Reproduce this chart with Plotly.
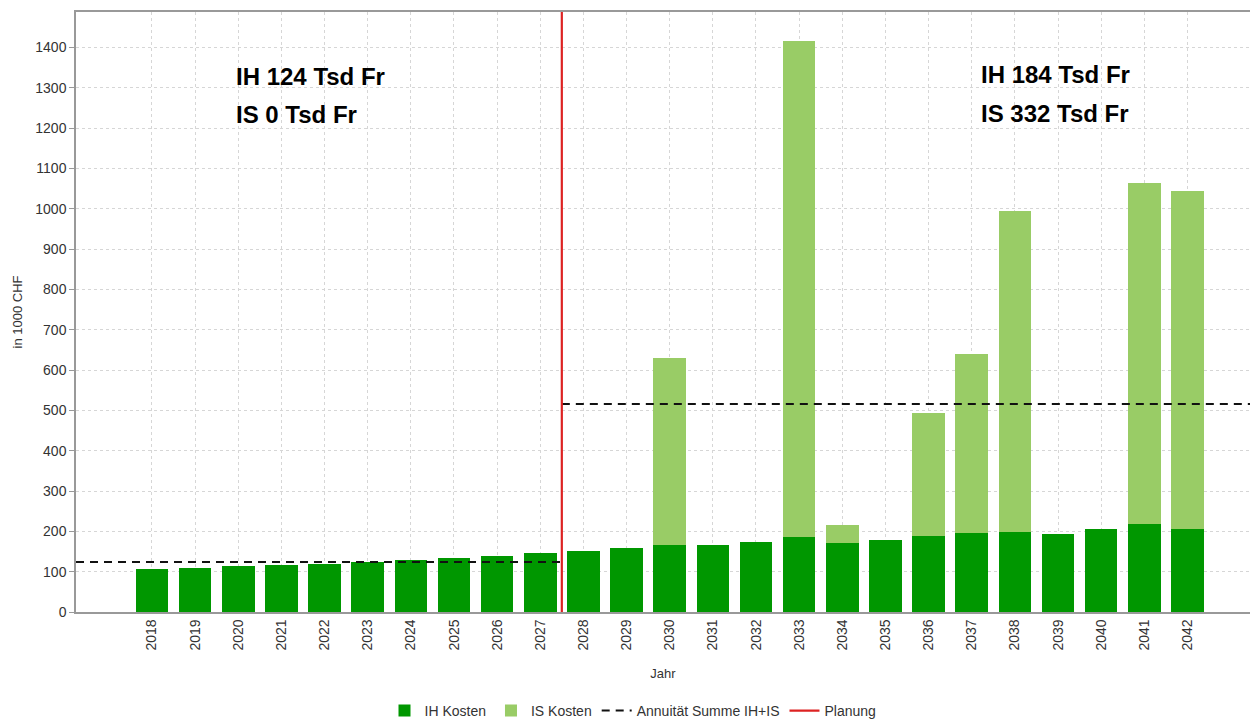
import plotly.graph_objects as go

# Jahre und Kosten (in 1000 CHF)
jahre = list(range(2018, 2043))
ih_kosten = [106, 110, 113, 117, 120, 124, 128, 134, 140, 146,
             152, 159, 165, 165, 174, 186, 171, 178, 189, 196,
             198, 193, 207, 219, 205]
is_kosten = [0, 0, 0, 0, 0, 0, 0, 0, 0, 0,
             0, 0, 466, 0, 0, 1229, 46, 0, 304, 444,
             797, 0, 0, 846, 839]

# Annuität je Periode (vor / nach Planungsbeginn)
annuitaet_vor = 124
annuitaet_nach = 516
ih_vor, is_vor = 124, 0
ih_nach, is_nach = 184, 332
planung_x = 2027.5

x_min, x_max = 2016.24, 2043.45
y_max = 1488

DUNKEL = "#009700"
HELL = "#99cc66"
ROT = "#dd2222"
FONT = "Liberation Sans, Arial, sans-serif"
GRID = "#d6d6d6"

fig = go.Figure()
fig.add_trace(go.Bar(x=jahre, y=ih_kosten, name="IH Kosten",
                     marker=dict(color=DUNKEL, line=dict(width=0)), width=0.755))
fig.add_trace(go.Bar(x=jahre, y=is_kosten, name="IS Kosten",
                     marker=dict(color=HELL, line=dict(width=0)), width=0.755))
fig.add_trace(go.Scatter(x=[x_min, planung_x, None, planung_x, x_max],
                         y=[annuitaet_vor, annuitaet_vor, None, annuitaet_nach, annuitaet_nach],
                         mode="lines", name="Annuität Summe IH+IS",
                         line=dict(color="#111111", width=2, dash="8px,6px"),
                         connectgaps=False))
fig.add_trace(go.Scatter(x=[planung_x, planung_x], y=[0, y_max], mode="lines",
                         name="Planung", line=dict(color=ROT, width=2.2)))

plot_l, plot_r, plot_t, plot_b = 76, 1250, 12, 612
pw, ph = plot_r - plot_l, plot_b - plot_t


def px(xp):
    return (xp - plot_l) / pw


def py(yp):
    return (plot_b - yp) / ph


texte = [
    (234, 76, f"IH {ih_vor} Tsd Fr"),
    (234, 114, f"IS {is_vor} Tsd Fr"),
    (979, 74, f"IH {ih_nach} Tsd Fr"),
    (979, 113, f"IS {is_nach} Tsd Fr"),
]
for xp, yp, t in texte:
    fig.add_annotation(x=px(xp), y=py(yp), xref="paper", yref="paper",
                       text=f"<b>{t}</b>", showarrow=False, xanchor="left",
                       yanchor="middle",
                       font=dict(family=FONT, size=24, color="#000000"))

fig.update_layout(
    width=1250, height=720,
    margin=dict(l=plot_l, r=1250 - plot_r, t=plot_t, b=720 - plot_b, autoexpand=False),
    barmode="stack",
    plot_bgcolor="white", paper_bgcolor="white",
    font=dict(family=FONT, size=14, color="#333333"),
    showlegend=True,
    legend=dict(orientation="h", x=px(633), xanchor="center", y=-0.165,
                yanchor="middle", font=dict(size=14, color="#333333"),
                traceorder="normal", itemwidth=30, tracegroupgap=0),
    xaxis=dict(range=[x_min, x_max], tickvals=jahre, ticktext=[str(j) for j in jahre],
               tickangle=-90, tickfont=dict(size=14), automargin=False,
               showgrid=True, gridcolor=GRID, griddash="3px,3px",
               gridwidth=1, showline=True, linecolor="#999999", linewidth=1.5,
               mirror=True, ticks="", zeroline=False,
               title=dict(text="Jahr", font=dict(size=13, color="#333333"), standoff=19)),
    yaxis=dict(range=[0, y_max], dtick=100, tickfont=dict(size=14), automargin=False,
               showgrid=True, gridcolor=GRID,
               griddash="3px,3px", gridwidth=1, showline=True, linecolor="#999999",
               linewidth=1.5, ticks="outside", ticklen=5, tickcolor="#999999",
               zeroline=False,
               title=dict(text="in 1000 CHF", font=dict(size=13, color="#333333"), standoff=10)),
)

fig.write_html("out.html")
